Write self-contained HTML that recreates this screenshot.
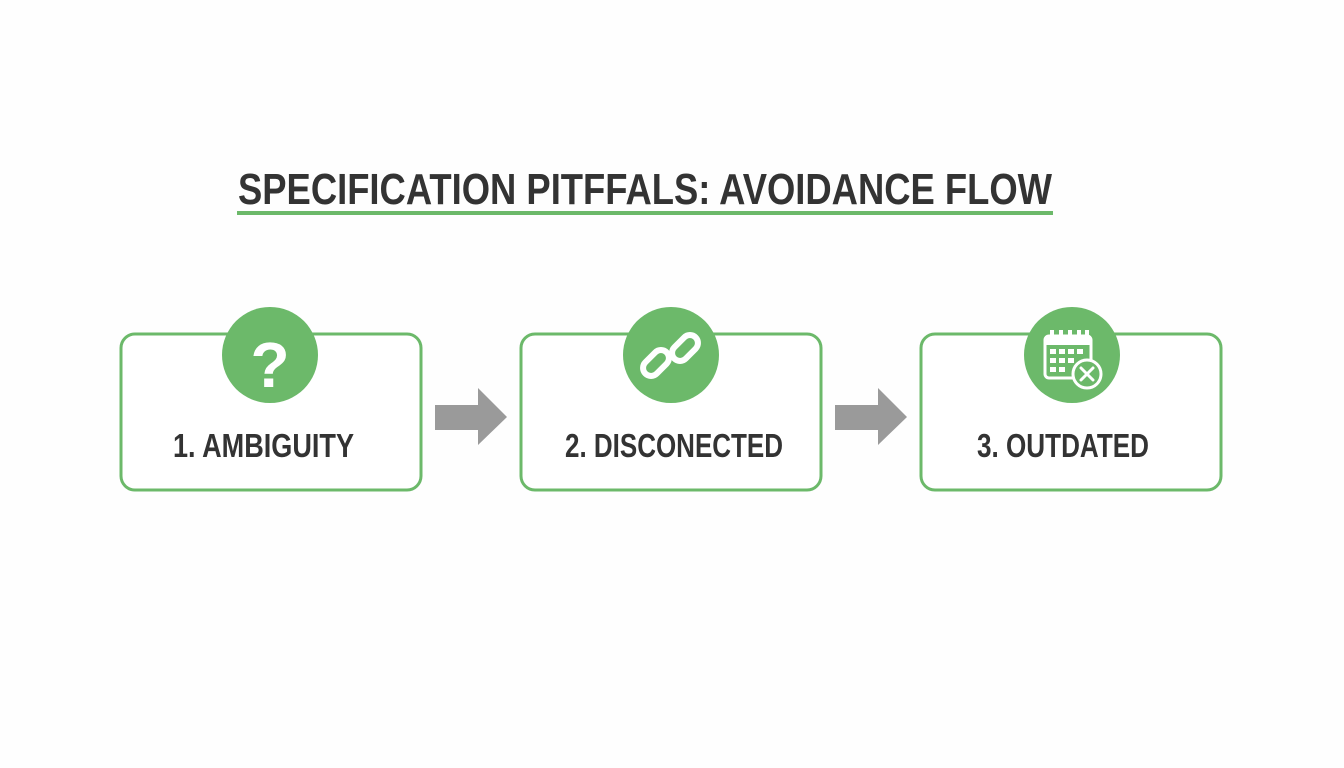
<!DOCTYPE html>
<html><head><meta charset="utf-8"><style>
html,body{margin:0;padding:0;background:#fff;}
svg{display:block;}
</style></head><body>
<svg width="1344" height="768" viewBox="0 0 1344 768" xmlns="http://www.w3.org/2000/svg">
<rect width="1344" height="768" fill="#fefefe"/>
<text x="238" y="204" font-family="Liberation Sans, sans-serif" font-weight="bold" font-size="44" fill="#333" textLength="814" lengthAdjust="spacingAndGlyphs">SPECIFICATION PITFFALS: AVOIDANCE FLOW</text>
<rect x="237" y="211" width="816" height="4" fill="#6cb96a"/>

<g fill="#fff" stroke="#6cb96a" stroke-width="3">
<rect x="121" y="334" width="300" height="156" rx="14"/>
<rect x="521" y="334" width="300" height="156" rx="14"/>
<rect x="921" y="334" width="300" height="156" rx="14"/>
</g>
<g fill="#6cb96a">
<circle cx="270" cy="355" r="48"/>
<circle cx="671" cy="355" r="48"/>
<circle cx="1072" cy="355" r="48"/>
</g>
<!-- question mark -->
<text x="270" y="387" text-anchor="middle" font-family="Liberation Sans, sans-serif" font-weight="bold" font-size="64" fill="#fff">?</text>
<!-- link icon -->
<g fill="none" stroke="#fff" stroke-width="6" stroke-linecap="round">
<rect x="641" y="355" width="30" height="16" rx="8" transform="rotate(-45 656 363)"/>
<rect x="670" y="340" width="30" height="16" rx="8" transform="rotate(-45 685 348)"/>
</g>
<!-- calendar icon -->
<g fill="none" stroke="#fff" stroke-width="3">
<rect x="1045" y="336" width="46" height="42" rx="4"/>
</g>
<g fill="#fff">
<rect x="1045" y="336" width="46" height="9"/>
<rect x="1050" y="330" width="4" height="8"/><rect x="1059" y="330" width="4" height="8"/><rect x="1068" y="330" width="4" height="8"/><rect x="1077" y="330" width="4" height="8"/><rect x="1085" y="330" width="4" height="8"/>
<rect x="1050" y="349" width="6" height="5"/><rect x="1059" y="349" width="6" height="5"/><rect x="1068" y="349" width="6" height="5"/><rect x="1077" y="349" width="6" height="5"/>
<rect x="1050" y="358" width="6" height="5"/><rect x="1059" y="358" width="6" height="5"/><rect x="1068" y="358" width="6" height="5"/>
<rect x="1050" y="367" width="6" height="5"/><rect x="1059" y="367" width="6" height="5"/>
</g>
<circle cx="1087" cy="374" r="14" fill="#6cb96a" stroke="#fff" stroke-width="3"/>
<path d="M1081 368 L1093 380 M1093 368 L1081 380" stroke="#fff" stroke-width="3" stroke-linecap="round"/>

<!-- arrows -->
<g fill="#9a9a9a">
<path d="M435 405 H478 V388 L507 417 L478 445 V430 H435 Z"/>
<path d="M835 405 H878 V388 L907 417 L878 445 V430 H835 Z"/>
</g>

<g font-family="Liberation Sans, sans-serif" font-weight="bold" font-size="33" fill="#333">
<text x="173" y="457" textLength="181" lengthAdjust="spacingAndGlyphs">1. AMBIGUITY</text>
<text x="565" y="457" textLength="218" lengthAdjust="spacingAndGlyphs">2. DISCONECTED</text>
<text x="977" y="457" textLength="172" lengthAdjust="spacingAndGlyphs">3. OUTDATED</text>
</g>
</svg>
</body></html>
